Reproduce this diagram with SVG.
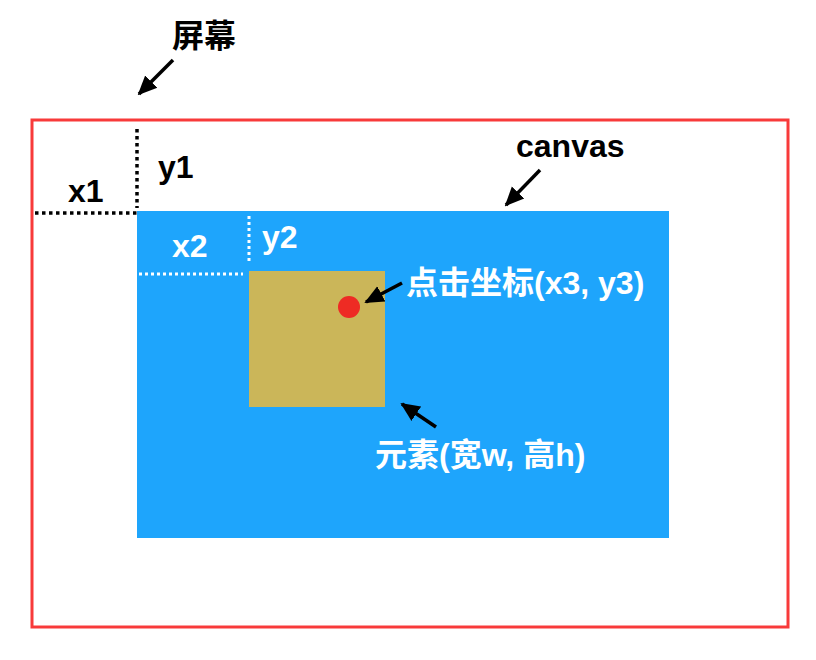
<svg xmlns="http://www.w3.org/2000/svg" width="816" height="660" viewBox="0 0 816 660">
<defs>
<marker id="ah" viewBox="0 0 10 10" refX="9" refY="5" markerWidth="5.5" markerHeight="5.5" markerUnits="strokeWidth" orient="auto">
<path d="M0,0.5 L10,5 L0,9.5 z" fill="#000"/>
</marker>
<style>
text{font-family:"Liberation Sans","Noto Sans CJK SC",sans-serif;font-weight:bold;font-size:32px}
.b{fill:#000}
.w{fill:#fff}
.arr{stroke:#000;stroke-width:3.5;fill:none;marker-end:url(#ah)}
.dk{stroke:#000;stroke-width:3.5;stroke-dasharray:3.5 3.5;fill:none}
.dw{stroke:#fff;stroke-width:3;stroke-dasharray:3 3;fill:none}
</style>
</defs>
<rect width="816" height="660" fill="#fff"/>
<g id="screen">
<rect x="32" y="120" width="756" height="507" fill="none" stroke="#F83A3A" stroke-width="3"/>
<text x="172" y="47" class="b">屏幕</text>
</g>
<g id="canvas">
<rect x="137" y="211" width="532" height="327" fill="#1EA5FC"/>
<text x="516" y="157" class="b">canvas</text>
</g>
<g id="element">
<rect x="249" y="271" width="136" height="136" fill="#CBB659"/>
<text x="375" y="466" class="w">元素(宽w, 高h)</text>
</g>
<g id="click">
<circle cx="349" cy="307" r="11" fill="#EE2B24"/>
<text x="406" y="294" class="w">点击坐标(x3, y3)</text>
</g>
<g id="offsets">
<text x="68" y="202" class="b">x1</text>
<text x="158" y="178" class="b">y1</text>
<text x="172" y="257" class="w">x2</text>
<text x="262" y="248" class="w">y2</text>
</g>
<g id="connectors">
<path class="arr" d="M173,60 L139,94"/>
<path class="arr" d="M540,170 L506,205"/>
<path class="arr" d="M402,283 L366,302"/>
<path class="arr" d="M436,427 L402,404"/>
<path class="dk" d="M137,129 L137,208"/>
<path class="dk" d="M35,213 L137,213"/>
<path class="dw" d="M249,216 L249,261"/>
<path class="dw" d="M139,274 L243,274"/>
</g>
</svg>
